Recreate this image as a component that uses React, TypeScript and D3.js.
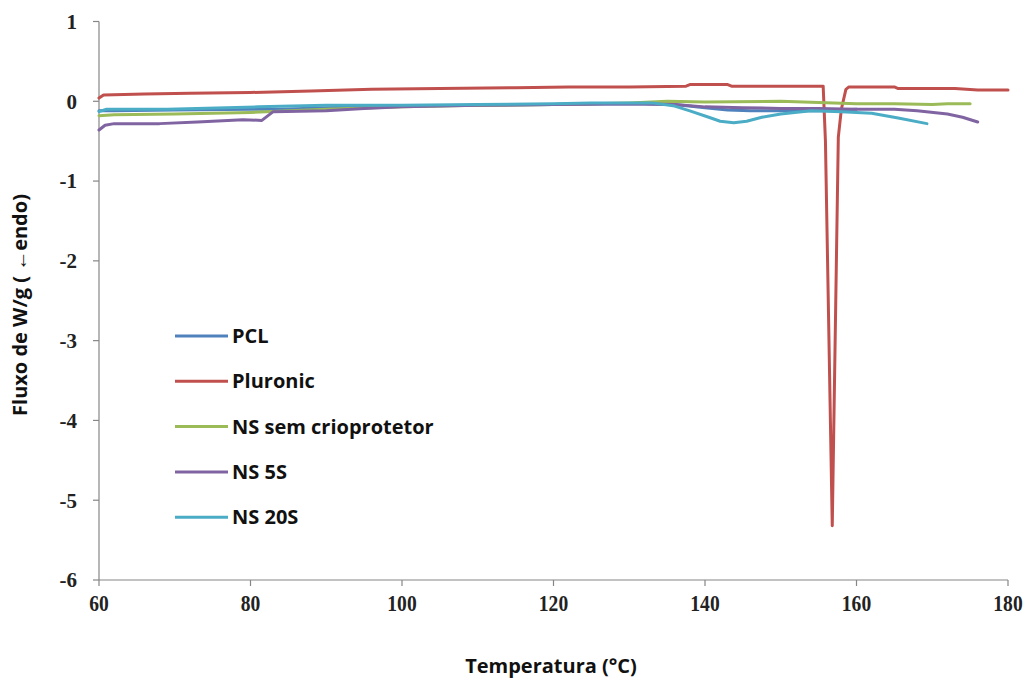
import React from "react";
import * as d3 from "d3";

// Temperature grid and heat flow (W/g) for each sample
const pclTemp = [60, 62, 70, 80, 84, 90, 100, 110, 120, 130, 136, 140, 143, 146, 150, 155, 158, 160];
const pclFlow = [-0.12, -0.12, -0.11, -0.1, -0.1, -0.08, -0.06, -0.05, -0.04, -0.03, -0.04, -0.08, -0.11, -0.12, -0.12, -0.12, -0.11, -0.1];

const pluronicTemp = [60, 60.6, 66, 72, 80, 88, 96, 105, 115, 122, 130, 137.5, 138, 143, 143.5, 155.6, 155.9, 156.8, 157.6, 158.0, 158.6, 159, 165, 165.5, 173, 176, 180];
const pluronicFlow = [0.04, 0.08, 0.09, 0.1, 0.11, 0.13, 0.15, 0.16, 0.17, 0.18, 0.18, 0.19, 0.21, 0.21, 0.19, 0.19, -0.5, -5.32, -0.45, -0.1, 0.15, 0.18, 0.18, 0.16, 0.16, 0.14, 0.14];

const semTemp = [60, 62, 70, 80, 90, 100, 110, 120, 130, 135, 140, 150, 160, 165, 170, 172, 175];
const semFlow = [-0.18, -0.17, -0.16, -0.14, -0.1, -0.07, -0.05, -0.04, -0.02, 0.0, -0.01, 0.0, -0.03, -0.03, -0.04, -0.03, -0.03];

const ns5Temp = [60, 60.8, 62, 68, 73, 79, 81.5, 83, 90, 95, 100, 110, 120, 130, 136, 140, 145, 150, 155, 160, 165, 168, 172, 174, 176];
const ns5Flow = [-0.36, -0.3, -0.28, -0.28, -0.26, -0.23, -0.24, -0.13, -0.12, -0.09, -0.07, -0.05, -0.04, -0.03, -0.04, -0.07, -0.08, -0.09, -0.09, -0.1, -0.1, -0.12, -0.16, -0.2, -0.26];

const ns20Temp = [60, 61, 69, 81, 90, 100, 110, 120, 125, 133, 136, 138, 140.5, 142, 143.8, 145.5, 147.5, 150, 154, 158, 162, 165.5, 169.3];
const ns20Flow = [-0.13, -0.1, -0.1, -0.07, -0.05, -0.05, -0.04, -0.03, -0.02, -0.02, -0.06, -0.12, -0.2, -0.25, -0.27, -0.25, -0.2, -0.16, -0.12, -0.13, -0.15, -0.21, -0.28];

const seriesNames = ["PCL", "Pluronic", "NS sem crioprotetor", "NS 5S", "NS 20S"];
const seriesColors = ["#4F81BD", "#C0504D", "#9BBB59", "#8064A2", "#4BACC6"];
const seriesTemps = [pclTemp, pluronicTemp, semTemp, ns5Temp, ns20Temp];
const seriesFlows = [pclFlow, pluronicFlow, semFlow, ns5Flow, ns20Flow];

const xTicks = [60, 80, 100, 120, 140, 160, 180];
const yTicks = [1, 0, -1, -2, -3, -4, -5, -6];

export default function App() {
  const W = 1031;
  const H = 683;
  const x = d3.scaleLinear().domain([60, 180]).range([99, 1008]);
  const y = d3.scaleLinear().domain([-6, 1]).range([580, 21.5]);
  const line = d3
    .line<[number, number]>()
    .x((d) => x(d[0]))
    .y((d) => y(d[1]));

  const axisColor = "#868686";
  const tickFont = "'Liberation Serif', serif";
  const labelFont = "'Open Sans', 'Noto Sans', sans-serif";

  return (
    <svg
      width={W}
      height={H}
      style={{ position: "absolute", left: 0, top: 0, background: "#fff" }}
    >
      {/* axes */}
      <line x1={x(60)} x2={x(60)} y1={y(1)} y2={y(-6)} stroke={axisColor} strokeWidth={1.2} />
      <line x1={x(60)} x2={x(180)} y1={y(-6)} y2={y(-6)} stroke={axisColor} strokeWidth={1.2} />
      {yTicks.map((t) => (
        <g key={"y" + t}>
          <line x1={x(60) - 6} x2={x(60)} y1={y(t)} y2={y(t)} stroke={axisColor} strokeWidth={1.2} />
          <text
            x={77}
            y={y(t)}
            dy="0.35em"
            textAnchor="end"
            fontFamily={tickFont}
            fontWeight="bold"
            fontSize={21}
            fill="#222"
          >
            {t}
          </text>
        </g>
      ))}
      {xTicks.map((t) => (
        <g key={"x" + t} >
          <line x1={x(t)} x2={x(t)} y1={y(-6)} y2={y(-6) + 6} stroke={axisColor} strokeWidth={1.2} />
          <text
            transform={`translate(${x(t)},611) scale(0.85,1)`}
            textAnchor="middle"
            fontFamily={tickFont}
            fontWeight="bold"
            fontSize={23}
            fill="#222"
          >
            {t}
          </text>
        </g>
      ))}

      {/* series */}
      {seriesNames.map((name, i) => {
        const pts: [number, number][] = seriesTemps[i].map((t, j) => [t, seriesFlows[i][j]]);
        return (
          <path
            key={name}
            d={line(pts) || ""}
            fill="none"
            stroke={seriesColors[i]}
            strokeWidth={3}
            strokeLinejoin="round"
            strokeLinecap="round"
          />
        );
      })}

      {/* legend */}
      {seriesNames.map((name, i) => {
        const ly = 336 + i * 45.3;
        return (
          <g key={"lg" + name}>
            <line x1={175} x2={228} y1={ly} y2={ly} stroke={seriesColors[i]} strokeWidth={3} />
            <text
              x={232}
              y={ly}
              dy="0.35em"
              fontFamily={labelFont}
              fontWeight="bold"
              fontSize={20}
              fill="#111"
            >
              {name}
            </text>
          </g>
        );
      })}

      {/* axis titles */}
      <text
        x={551}
        y={673}
        textAnchor="middle"
        fontFamily={labelFont}
        fontWeight="bold"
        fontSize={20}
        fill="#111"
      >
        Temperatura (°C)
      </text>
      <text
        transform="translate(27,305) rotate(-90)"
        textAnchor="middle"
        fontFamily={labelFont}
        fontWeight="bold"
        fontSize={20}
        fill="#111"
      >
        Fluxo de  W/g ( ←endo)
      </text>
    </svg>
  );
}
